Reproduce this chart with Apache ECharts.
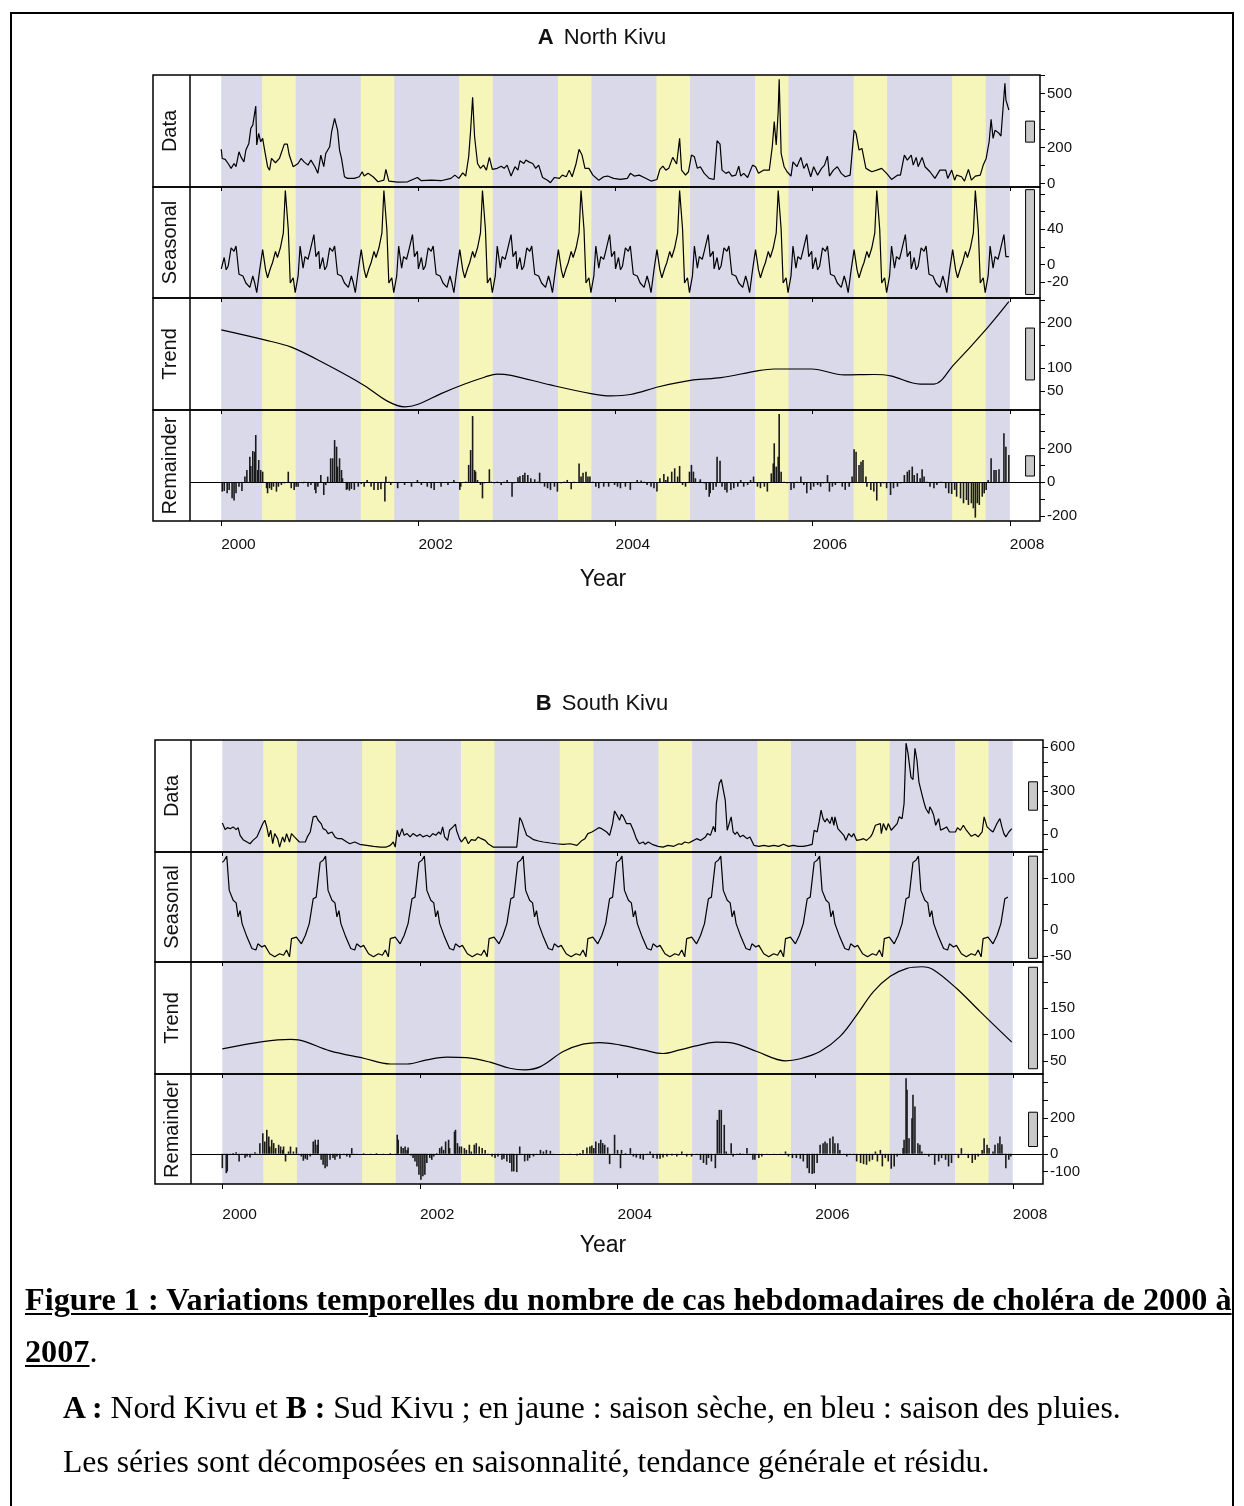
<!DOCTYPE html>
<html>
<head>
<meta charset="utf-8">
<script src="https://cdn.jsdelivr.net/npm/echarts@6.0.0/dist/echarts.min.js"></script>
<style>
  html, body { margin: 0; padding: 0; background: #fff; }
  #chart { position: absolute; left: 0; top: 0; width: 1244px; height: 1506px; }
  #frame { position: absolute; left: 10px; top: 12px; width: 1220px; height: 1520px; border: 2px solid #000; pointer-events: none; }
  .cap { position: absolute; font-family: "Liberation Serif", "Times New Roman", serif; font-size: 31px; line-height: 38px; color: #000; white-space: nowrap; transform-origin: 0 50%; }
  .u { text-decoration: underline; text-decoration-thickness: 2px; text-underline-offset: 3px; }
</style>
</head>
<body>
<div id="chart"></div>
<div id="frame"></div>
<div class="cap" style="left:25px;top:1281px;font-weight:bold;transform:scaleX(1.04);"><span class="u">Figure 1 : Variations temporelles du nombre de cas hebdomadaires de choléra de 2000 à</span></div>
<div class="cap" style="left:25px;top:1333px;transform:scaleX(1.04);"><b class="u">2007</b>.</div>
<div class="cap" style="left:63px;top:1389px;transform:scaleX(1.022);"><b>A :</b> Nord Kivu et <b>B :</b> Sud Kivu ; en jaune : saison sèche, en bleu : saison des pluies.</div>
<div class="cap" style="left:63px;top:1443px;transform:scaleX(1.022);">Les séries sont décomposées en saisonnalité, tendance générale et résidu.</div>
<script>
// ---------------- DATA ----------------
const yearTicks = [2000, 2002, 2004, 2006, 2008];
const seasonYears = [2000, 2001, 2002, 2003, 2004, 2005, 2006, 2007];
const rainySeason = [2000, 2008];          // blue background
const drySeasonFrac = [0.415, 0.755];      // yellow background, fraction of each year

// North Kivu (A)
const dataA = [[2000.00,190],[2000.01,139],[2000.04,134],[2000.07,111],[2000.10,84],[2000.13,111],[2000.15,93],[2000.18,176],[2000.20,148],[2000.23,120],[2000.25,186],[2000.28,223],[2000.30,307],[2000.32,325],[2000.35,431],[2000.36,214],[2000.38,279],[2000.40,232],[2000.42,251],[2000.44,186],[2000.47,93],[2000.49,74],[2000.51,139],[2000.55,115],[2000.59,139],[2000.64,219],[2000.67,219],[2000.69,158],[2000.73,93],[2000.78,111],[2000.81,139],[2000.84,120],[2000.86,130],[2000.88,102],[2000.91,130],[2000.95,93],[2000.98,56],[2001.01,158],[2001.04,93],[2001.06,167],[2001.10,204],[2001.12,288],[2001.15,362],[2001.18,297],[2001.20,186],[2001.22,139],[2001.25,37],[2001.28,28],[2001.35,28],[2001.40,37],[2001.43,65],[2001.45,41],[2001.49,56],[2001.54,37],[2001.59,9],[2001.65,18],[2001.67,78],[2001.70,13],[2001.79,7],[2001.89,9],[2001.99,33],[2002.03,15],[2002.13,18],[2002.23,15],[2002.33,28],[2002.37,46],[2002.41,28],[2002.45,59],[2002.48,41],[2002.51,148],[2002.53,297],[2002.55,480],[2002.57,260],[2002.60,111],[2002.63,84],[2002.66,102],[2002.69,74],[2002.72,145],[2002.75,78],[2002.80,84],[2002.84,96],[2002.87,84],[2002.90,102],[2002.94,41],[2002.98,93],[2003.01,74],[2003.03,126],[2003.07,111],[2003.09,130],[2003.12,120],[2003.16,111],[2003.19,84],[2003.22,102],[2003.26,33],[2003.31,18],[2003.34,4],[2003.38,33],[2003.43,28],[2003.46,46],[2003.50,37],[2003.53,74],[2003.56,37],[2003.60,111],[2003.63,190],[2003.66,158],[2003.69,84],[2003.73,84],[2003.77,46],[2003.83,18],[2003.88,37],[2003.92,41],[2003.98,28],[2004.05,22],[2004.12,28],[2004.15,56],[2004.19,41],[2004.24,46],[2004.29,33],[2004.36,13],[2004.42,22],[2004.45,78],[2004.48,96],[2004.51,74],[2004.54,84],[2004.58,145],[2004.60,152],[2004.62,108],[2004.65,251],[2004.67,74],[2004.71,46],[2004.74,65],[2004.77,158],[2004.80,148],[2004.83,84],[2004.86,93],[2004.90,56],[2004.95,28],[2005.00,22],[2005.03,238],[2005.06,219],[2005.08,74],[2005.12,56],[2005.15,65],[2005.18,41],[2005.22,46],[2005.25,96],[2005.27,41],[2005.30,56],[2005.34,33],[2005.39,102],[2005.42,93],[2005.45,56],[2005.50,74],[2005.56,74],[2005.59,204],[2005.61,344],[2005.63,214],[2005.65,400],[2005.66,580],[2005.68,167],[2005.71,93],[2005.74,65],[2005.78,41],[2005.80,120],[2005.84,93],[2005.88,145],[2005.91,84],[2005.94,111],[2005.98,37],[2006.01,93],[2006.05,46],[2006.09,84],[2006.12,102],[2006.15,152],[2006.17,41],[2006.21,74],[2006.25,93],[2006.29,56],[2006.33,37],[2006.38,46],[2006.42,297],[2006.44,279],[2006.47,186],[2006.50,195],[2006.54,84],[2006.57,74],[2006.60,65],[2006.65,74],[2006.70,84],[2006.75,56],[2006.80,22],[2006.86,46],[2006.89,46],[2006.93,158],[2006.96,130],[2007.00,158],[2007.02,102],[2007.05,145],[2007.07,93],[2007.11,145],[2007.14,93],[2007.19,65],[2007.24,28],[2007.29,74],[2007.35,74],[2007.37,28],[2007.41,74],[2007.44,18],[2007.46,46],[2007.51,37],[2007.54,13],[2007.58,78],[2007.61,18],[2007.65,41],[2007.70,46],[2007.73,102],[2007.76,139],[2007.79,232],[2007.81,357],[2007.83,251],[2007.85,297],[2007.89,279],[2007.91,264],[2007.95,558],[2007.96,465],[2007.99,409]];

const seasonalFracA = [0.00,0.03,0.05,0.07,0.10,0.13,0.15,0.18,0.22,0.25,0.29,0.32,0.34,0.36,0.39,0.42,0.45,0.47,0.50,0.52,0.55,0.57,0.60,0.63,0.65,0.68,0.70,0.73,0.75,0.78,0.80,0.83,0.85,0.88,0.90,0.94,0.96,0.99];
const seasonalA = [
  [-5,8,-6,-2,19,15,21,-11,-13,-21,-26,-13,-21,-32,-6,17,-6,-15,-4,2,15,8,19,36,84,40,-21,-15,-32,-13,21,-4,9,6,15,34,9,15],
  [-5,8,-6,-2,19,15,21,-11,-13,-21,-26,-13,-21,-32,-6,17,-6,-15,-4,2,15,8,19,36,84,40,-21,-15,-32,-13,21,-4,9,6,15,34,9,15],
  [-5,8,-6,-2,19,15,21,-11,-13,-21,-26,-13,-21,-32,-6,17,-6,-15,-4,2,15,8,19,36,84,40,-21,-15,-32,-13,21,-4,9,6,15,34,9,15],
  [-5,8,-6,-2,19,15,21,-11,-13,-21,-26,-13,-21,-32,-6,17,-6,-15,-4,2,15,8,19,36,84,40,-21,-15,-32,-13,21,-4,9,6,15,34,9,15],
  [-5,8,-6,-2,19,15,21,-11,-13,-21,-26,-13,-21,-32,-6,17,-6,-15,-4,2,15,8,19,36,84,40,-21,-15,-32,-13,21,-4,9,6,15,34,9,15],
  [-5,8,-6,-2,19,15,21,-11,-13,-21,-26,-13,-21,-32,-6,17,-6,-15,-4,2,15,8,19,36,84,40,-21,-15,-32,-13,21,-4,9,6,15,34,9,15],
  [-5,8,-6,-2,19,15,21,-11,-13,-21,-26,-13,-21,-32,-6,17,-6,-15,-4,2,15,8,19,36,84,40,-21,-15,-32,-13,21,-4,9,6,15,34,9,15],
  [-5,8,-6,-2,19,15,21,-11,-13,-21,-26,-13,-21,-32,-6,17,-6,-15,-4,2,15,8,19,36,84,40,-21,-15,-32,-13,21,-4,9,6,15,34,9,9]
];

const trendA = [[2000.00,184],[2000.44,162],[2000.71,146],[2001.05,110],[2001.45,62],[2001.69,27],[2001.86,15],[2001.99,20],[2002.23,44],[2002.47,65],[2002.67,80],[2002.80,87],[2002.94,84],[2003.34,63],[2003.75,44],[2003.95,39],[2004.15,42],[2004.44,59],[2004.79,74],[2005.07,79],[2005.44,94],[2005.61,98],[2005.99,98],[2006.32,85],[2006.62,86],[2006.79,83],[2007.09,65],[2007.23,65],[2007.43,107],[2007.77,188],[2007.99,246]];

const remainderA = [[2000.01,-55],[2000.03,-51],[2000.06,-65],[2000.08,-45],[2000.11,-95],[2000.13,-108],[2000.15,-65],[2000.18,-26],[2000.21,-51],[2000.24,34],[2000.26,73],[2000.29,152],[2000.30,97],[2000.32,185],[2000.34,181],[2000.35,280],[2000.37,73],[2000.38,132],[2000.40,73],[2000.42,63],[2000.46,-35],[2000.47,-65],[2000.49,-35],[2000.51,-45],[2000.53,-26],[2000.56,-55],[2000.58,-26],[2000.61,-16],[2000.64,-6],[2000.68,63],[2000.71,-35],[2000.74,-45],[2000.76,-26],[2000.78,-26],[2000.83,-6],[2000.84,4],[2000.88,-26],[2000.91,-16],[2000.95,-45],[2000.96,-65],[2000.98,-26],[2001.01,43],[2001.04,-75],[2001.06,-16],[2001.08,34],[2001.11,142],[2001.13,142],[2001.15,250],[2001.17,211],[2001.18,93],[2001.20,142],[2001.22,73],[2001.23,24],[2001.27,-45],[2001.28,-41],[2001.30,-49],[2001.32,-39],[2001.35,-45],[2001.39,-26],[2001.42,-10],[2001.45,-26],[2001.48,14],[2001.52,-26],[2001.55,-45],[2001.59,-45],[2001.62,-41],[2001.66,-114],[2001.67,34],[2001.70,4],[2001.72,-16],[2001.79,-35],[2001.86,-16],[2001.93,-26],[2001.99,14],[2002.03,-16],[2002.09,-26],[2002.13,-35],[2002.16,-45],[2002.23,-26],[2002.30,-16],[2002.36,14],[2002.42,-45],[2002.43,-26],[2002.48,4],[2002.51,103],[2002.53,191],[2002.55,392],[2002.57,73],[2002.58,63],[2002.60,14],[2002.63,-16],[2002.65,-95],[2002.67,-6],[2002.72,77],[2002.74,4],[2002.77,-6],[2002.80,4],[2002.84,-16],[2002.87,4],[2002.90,14],[2002.95,-85],[2002.97,-6],[2003.01,30],[2003.03,37],[2003.06,43],[2003.08,57],[2003.11,43],[2003.14,24],[2003.18,18],[2003.21,4],[2003.23,57],[2003.24,-6],[2003.28,-26],[2003.31,-35],[2003.34,-45],[2003.38,-26],[2003.41,-55],[2003.45,-6],[2003.48,4],[2003.51,14],[2003.55,-41],[2003.58,4],[2003.63,112],[2003.65,34],[2003.67,57],[2003.70,63],[2003.72,34],[2003.74,34],[2003.77,4],[2003.80,-26],[2003.83,-35],[2003.88,-26],[2003.93,-26],[2003.99,-16],[2004.02,-26],[2004.05,-35],[2004.10,-26],[2004.15,-45],[2004.19,-2],[2004.22,14],[2004.26,10],[2004.29,4],[2004.32,-16],[2004.36,-26],[2004.39,-35],[2004.42,-55],[2004.45,24],[2004.49,49],[2004.51,14],[2004.53,34],[2004.57,63],[2004.60,83],[2004.63,34],[2004.65,97],[2004.68,-16],[2004.71,-26],[2004.75,63],[2004.77,103],[2004.79,63],[2004.81,24],[2004.85,4],[2004.86,18],[2004.90,-6],[2004.92,-45],[2004.95,-85],[2004.96,-65],[2004.99,-45],[2005.02,-26],[2005.03,152],[2005.06,128],[2005.08,-26],[2005.11,-45],[2005.13,-61],[2005.17,-45],[2005.20,-35],[2005.24,-26],[2005.27,14],[2005.30,-26],[2005.34,-16],[2005.37,14],[2005.40,34],[2005.44,-26],[2005.47,-35],[2005.51,-26],[2005.54,-55],[2005.58,53],[2005.60,112],[2005.61,231],[2005.63,93],[2005.65,152],[2005.66,404],[2005.68,63],[2005.71,4],[2005.74,-6],[2005.78,-45],[2005.81,-35],[2005.84,4],[2005.88,34],[2005.91,-16],[2005.94,-65],[2005.98,-45],[2006.01,-26],[2006.05,-16],[2006.08,-26],[2006.11,-6],[2006.15,43],[2006.17,-55],[2006.20,-26],[2006.23,-16],[2006.27,-2],[2006.30,-26],[2006.33,-45],[2006.37,-26],[2006.40,34],[2006.42,195],[2006.44,181],[2006.47,103],[2006.49,122],[2006.51,132],[2006.54,34],[2006.55,-26],[2006.59,-45],[2006.62,-55],[2006.65,-108],[2006.69,-26],[2006.72,-6],[2006.75,-35],[2006.79,-75],[2006.82,-35],[2006.86,-26],[2006.89,-6],[2006.93,43],[2006.96,63],[2006.98,73],[2007.01,93],[2007.03,43],[2007.06,53],[2007.09,24],[2007.11,77],[2007.13,34],[2007.16,4],[2007.19,-26],[2007.23,-35],[2007.26,-16],[2007.30,4],[2007.35,-35],[2007.38,-65],[2007.41,-69],[2007.44,-45],[2007.46,-85],[2007.50,-95],[2007.53,-124],[2007.56,-105],[2007.58,-134],[2007.61,-124],[2007.63,-154],[2007.65,-209],[2007.67,-124],[2007.69,-134],[2007.72,-85],[2007.74,-65],[2007.76,-45],[2007.78,14],[2007.81,142],[2007.84,73],[2007.86,73],[2007.89,77],[2007.92,4],[2007.94,290],[2007.96,211],[2007.99,162]];

// South Kivu (B)
const dataB = [[2000.00,78],[2000.03,32],[2000.05,46],[2000.08,39],[2000.11,51],[2000.14,32],[2000.16,46],[2000.18,-7],[2000.21,-37],[2000.25,-53],[2000.28,-65],[2000.31,-42],[2000.33,-53],[2000.35,-18],[2000.38,28],[2000.41,74],[2000.43,97],[2000.45,51],[2000.47,-18],[2000.49,28],[2000.51,-65],[2000.53,5],[2000.56,-30],[2000.58,-88],[2000.61,-18],[2000.63,-53],[2000.65,5],[2000.68,-53],[2000.70,5],[2000.73,-18],[2000.75,-7],[2000.78,-53],[2000.80,-65],[2000.84,-53],[2000.86,-18],[2000.89,16],[2000.92,120],[2000.95,125],[2000.97,97],[2001.00,74],[2001.02,39],[2001.05,28],[2001.07,5],[2001.11,16],[2001.14,-18],[2001.17,-30],[2001.21,-30],[2001.26,-53],[2001.29,-65],[2001.34,-53],[2001.39,-69],[2001.46,-76],[2001.53,-83],[2001.60,-88],[2001.66,-88],[2001.70,-76],[2001.73,-53],[2001.75,-88],[2001.77,28],[2001.79,-18],[2001.82,39],[2001.84,-7],[2001.87,5],[2001.90,-18],[2001.93,5],[2001.97,-14],[2002.00,0],[2002.03,-18],[2002.07,-7],[2002.10,-18],[2002.13,5],[2002.16,-7],[2002.19,16],[2002.21,0],[2002.23,51],[2002.25,-18],[2002.28,-42],[2002.30,28],[2002.34,55],[2002.36,69],[2002.37,28],[2002.40,-30],[2002.42,-53],[2002.46,-18],[2002.49,-65],[2002.52,-37],[2002.56,-42],[2002.59,-18],[2002.62,-30],[2002.66,-42],[2002.69,-65],[2002.74,-88],[2002.84,-88],[2002.98,-88],[2003.01,115],[2003.03,92],[2003.05,51],[2003.08,-7],[2003.11,-18],[2003.15,-37],[2003.20,-46],[2003.25,-53],[2003.32,-60],[2003.38,-65],[2003.45,-69],[2003.52,-65],[2003.59,-76],[2003.64,-42],[2003.67,-30],[2003.70,5],[2003.74,16],[2003.77,28],[2003.81,46],[2003.84,39],[2003.89,16],[2003.92,-7],[2003.95,74],[2003.97,161],[2004.00,125],[2004.02,97],[2004.04,138],[2004.06,120],[2004.09,74],[2004.11,62],[2004.13,74],[2004.16,28],[2004.19,-30],[2004.22,-65],[2004.26,-53],[2004.28,-69],[2004.31,-53],[2004.35,-69],[2004.38,-76],[2004.41,-83],[2004.46,-88],[2004.51,-76],[2004.57,-83],[2004.62,-65],[2004.65,-69],[2004.68,-53],[2004.72,-60],[2004.77,-42],[2004.80,-30],[2004.84,-42],[2004.89,-18],[2004.91,5],[2004.94,-7],[2004.97,55],[2004.99,16],[2005.00,212],[2005.03,351],[2005.05,378],[2005.07,385],[2005.09,235],[2005.11,28],[2005.12,51],[2005.15,120],[2005.17,16],[2005.19,0],[2005.21,16],[2005.24,-18],[2005.27,-7],[2005.31,-30],[2005.34,-18],[2005.38,-76],[2005.43,-83],[2005.48,-76],[2005.53,-83],[2005.58,-76],[2005.63,-83],[2005.68,-69],[2005.73,-83],[2005.78,-76],[2005.83,-83],[2005.88,-83],[2005.93,-76],[2005.97,-69],[2005.99,28],[2006.02,16],[2006.04,85],[2006.06,166],[2006.08,108],[2006.10,85],[2006.12,108],[2006.15,74],[2006.17,120],[2006.19,62],[2006.20,120],[2006.23,39],[2006.25,28],[2006.29,-7],[2006.31,-42],[2006.34,5],[2006.37,-18],[2006.39,5],[2006.42,-42],[2006.46,-37],[2006.49,-30],[2006.52,-42],[2006.56,-18],[2006.58,5],[2006.61,62],[2006.63,51],[2006.66,74],[2006.67,5],[2006.69,74],[2006.72,28],[2006.74,74],[2006.77,28],[2006.79,39],[2006.83,74],[2006.85,120],[2006.88,108],[2006.90,212],[2006.92,628],[2006.94,558],[2006.97,392],[2006.99,378],[2007.01,593],[2007.03,512],[2007.05,362],[2007.07,305],[2007.10,224],[2007.12,178],[2007.15,143],[2007.16,189],[2007.18,166],[2007.20,131],[2007.22,62],[2007.25,108],[2007.27,28],[2007.30,39],[2007.33,51],[2007.36,16],[2007.38,28],[2007.42,16],[2007.44,46],[2007.47,28],[2007.50,62],[2007.53,28],[2007.55,16],[2007.58,-14],[2007.62,0],[2007.65,-18],[2007.69,16],[2007.71,120],[2007.74,51],[2007.77,32],[2007.80,16],[2007.84,74],[2007.87,108],[2007.89,51],[2007.91,5],[2007.93,-18],[2007.96,16],[2007.99,39]];

const seasonalFracB = [0.00,0.02,0.045,0.07,0.11,0.14,0.16,0.18,0.20,0.25,0.30,0.34,0.36,0.40,0.43,0.48,0.53,0.58,0.62,0.65,0.68,0.70,0.72,0.75,0.80,0.84,0.88,0.92,0.95,0.99];
const seasonalB = [
  [131,135,143,77,58,53,26,38,13,-13,-35,-38,-26,-32,-29,-45,-51,-45,-48,-38,-51,-16,-19,-13,-26,-10,13,61,64,131],
  [131,135,143,77,58,53,26,38,13,-13,-35,-38,-26,-32,-29,-45,-51,-45,-48,-38,-51,-16,-19,-13,-26,-10,13,61,64,131],
  [131,135,143,77,58,53,26,38,13,-13,-35,-38,-26,-32,-29,-45,-51,-45,-48,-38,-51,-16,-19,-13,-26,-10,13,61,64,131],
  [131,135,143,77,58,53,26,38,13,-13,-35,-38,-26,-32,-29,-45,-51,-45,-48,-38,-51,-16,-19,-13,-26,-10,13,61,64,131],
  [131,135,143,77,58,53,26,38,13,-13,-35,-38,-26,-32,-29,-45,-51,-45,-48,-38,-51,-16,-19,-13,-26,-10,13,61,64,131],
  [131,135,143,77,58,53,26,38,13,-13,-35,-38,-26,-32,-29,-45,-51,-45,-48,-38,-51,-16,-19,-13,-26,-10,13,61,64,131],
  [131,135,143,77,58,53,26,38,13,-13,-35,-38,-26,-32,-29,-45,-51,-45,-48,-38,-51,-16,-19,-13,-26,-10,13,61,64,131],
  [131,135,143,77,58,53,26,38,13,-13,-35,-38,-26,-32,-29,-45,-51,-45,-48,-38,-51,-16,-19,-13,-26,-10,13,61,64]
];

const trendB = [[2000.00,72.8],[2000.41,86.7],[2000.69,91],[2000.77,90],[2001.09,69],[2001.43,55],[2001.70,44],[2001.87,44],[2002.07,52],[2002.27,57],[2002.47,56],[2002.71,47.5],[2002.91,36],[2003.06,33],[2003.22,39],[2003.45,67.7],[2003.65,81.7],[2003.82,84.8],[2004.03,80],[2004.26,71],[2004.46,64],[2004.63,71],[2004.83,80],[2005.00,85.5],[2005.17,83.6],[2005.41,67.7],[2005.70,50],[2005.85,54],[2006.05,67.7],[2006.25,96],[2006.42,137],[2006.59,181.6],[2006.76,211],[2006.93,226],[2007.08,229],[2007.20,223],[2007.43,188],[2007.67,143.6],[2007.99,85.5]];

const remainderB = [[2000.00,-81],[2000.02,-6],[2000.04,-109],[2000.05,-99],[2000.08,-2],[2000.11,4],[2000.14,9],[2000.17,-43],[2000.20,-6],[2000.23,-24],[2000.25,-15],[2000.28,-21],[2000.30,-2],[2000.33,9],[2000.35,-6],[2000.38,60],[2000.41,116],[2000.43,69],[2000.45,135],[2000.47,97],[2000.48,41],[2000.50,79],[2000.52,60],[2000.54,32],[2000.57,51],[2000.59,41],[2000.61,22],[2000.62,41],[2000.64,-43],[2000.67,13],[2000.69,41],[2000.72,13],[2000.75,36],[2000.77,-6],[2000.80,-15],[2000.82,-39],[2000.84,-28],[2000.86,-34],[2000.89,-15],[2000.92,69],[2000.94,79],[2000.96,51],[2000.97,79],[2001.00,-34],[2001.02,-62],[2001.04,-81],[2001.06,-71],[2001.09,-34],[2001.12,-24],[2001.14,-34],[2001.16,-15],[2001.19,-28],[2001.23,-6],[2001.26,-15],[2001.29,-21],[2001.31,32],[2001.33,-2],[2001.36,-6],[2001.43,4],[2001.50,-2],[2001.56,4],[2001.63,-2],[2001.70,4],[2001.75,-6],[2001.77,107],[2001.78,79],[2001.81,41],[2001.83,32],[2001.85,41],[2001.87,22],[2001.88,36],[2001.91,-9],[2001.93,-24],[2001.95,-43],[2001.97,-71],[2001.99,-118],[2002.01,-146],[2002.03,-127],[2002.05,-118],[2002.07,-52],[2002.10,-24],[2002.12,-34],[2002.14,-15],[2002.17,4],[2002.20,32],[2002.22,41],[2002.24,22],[2002.26,69],[2002.29,79],[2002.30,32],[2002.32,-6],[2002.35,125],[2002.36,135],[2002.38,60],[2002.40,41],[2002.42,41],[2002.45,32],[2002.47,22],[2002.50,51],[2002.52,13],[2002.55,51],[2002.57,60],[2002.60,41],[2002.63,32],[2002.66,22],[2002.69,-6],[2002.73,-15],[2002.76,-24],[2002.79,-15],[2002.83,-34],[2002.85,-28],[2002.88,-43],[2002.91,-52],[2002.93,-99],[2002.95,-99],[2002.98,-103],[2003.01,41],[2003.03,-6],[2003.06,-43],[2003.09,-39],[2003.11,-24],[2003.15,-15],[2003.18,-6],[2003.22,22],[2003.25,13],[2003.28,22],[2003.32,17],[2003.35,-2],[2003.38,0],[2003.45,-6],[2003.52,-2],[2003.59,-9],[2003.62,4],[2003.65,22],[2003.69,36],[2003.72,41],[2003.74,47],[2003.76,32],[2003.78,69],[2003.81,60],[2003.83,79],[2003.85,60],[2003.87,51],[2003.90,36],[2003.92,-58],[2003.95,-6],[2003.97,107],[2004.00,22],[2004.03,-81],[2004.04,22],[2004.08,4],[2004.13,32],[2004.16,-15],[2004.19,-21],[2004.23,-28],[2004.26,-34],[2004.30,-6],[2004.33,13],[2004.36,-24],[2004.40,-28],[2004.43,-28],[2004.46,-21],[2004.50,-15],[2004.55,-9],[2004.60,-15],[2004.65,13],[2004.70,-15],[2004.75,-15],[2004.80,-6],[2004.84,-34],[2004.87,-52],[2004.90,-62],[2004.92,-24],[2004.95,-43],[2004.99,-81],[2005.01,191],[2005.03,247],[2005.05,247],[2005.08,163],[2005.10,13],[2005.12,-6],[2005.15,60],[2005.17,-15],[2005.21,-6],[2005.24,4],[2005.27,-2],[2005.31,32],[2005.34,-6],[2005.37,-34],[2005.39,-34],[2005.43,-24],[2005.46,-15],[2005.51,-6],[2005.58,-2],[2005.65,-2],[2005.70,13],[2005.73,-15],[2005.77,-24],[2005.81,-24],[2005.85,-28],[2005.88,-43],[2005.92,-81],[2005.94,-109],[2005.97,-114],[2005.99,-109],[2006.02,-52],[2006.05,51],[2006.08,60],[2006.10,69],[2006.12,60],[2006.15,88],[2006.18,97],[2006.20,60],[2006.23,60],[2006.25,22],[2006.29,-6],[2006.32,-15],[2006.35,-2],[2006.39,-6],[2006.42,-43],[2006.46,-52],[2006.49,-58],[2006.52,-62],[2006.55,-43],[2006.58,-34],[2006.61,13],[2006.63,-43],[2006.66,22],[2006.68,-71],[2006.71,-24],[2006.74,-43],[2006.77,-84],[2006.80,-71],[2006.83,-15],[2006.86,-2],[2006.89,32],[2006.90,79],[2006.92,425],[2006.93,360],[2006.95,88],[2006.98,200],[2006.99,332],[2007.01,266],[2007.04,60],[2007.06,51],[2007.08,13],[2007.11,-6],[2007.15,-15],[2007.18,-2],[2007.21,-62],[2007.25,-43],[2007.28,-24],[2007.32,-34],[2007.35,-71],[2007.38,-52],[2007.42,-6],[2007.45,-24],[2007.48,32],[2007.52,-2],[2007.55,-24],[2007.59,-52],[2007.62,-34],[2007.65,-15],[2007.69,22],[2007.71,88],[2007.74,51],[2007.76,32],[2007.80,13],[2007.82,51],[2007.85,60],[2007.87,97],[2007.89,54],[2007.91,-6],[2007.93,-81],[2007.96,-34],[2007.98,-15]];

// Axis extents, ticks and labels per component (Data, Seasonal, Trend, Remainder)
const yRangeA  = [[-20,604],[-38,88],[8,254],[-229,428]];
const yTicksA  = [[0,100,200,300,400,500,600],[-20,0,20,40,60,80],[50,100,150,200,250],[-200,-100,0,100,200,300,400]];
const yLabelsA = [[0,200,500],[-20,0,40],[50,100,200],[-200,0,200]];
const scaleBarA = [[230,347],[-34,85],[74,188],[37,157]];

const yRangeB  = [[-122,650],[-61,151],[25,238],[-170,449]];
const yTicksB  = [[-100,0,100,200,300,400,500,600],[-50,0,50,100],[50,100,150,200],[-100,0,100,200,300,400]];
const yLabelsB = [[0,300,600],[-50,0,100],[50,100,150],[-100,0,200]];
const scaleBarB = [[166,362],[-54,143],[35,228],[41,234]];

const componentNames = ['Data', 'Seasonal', 'Trend', 'Remainder'];

// ---------------- BUILD ----------------
function seasonalSeries(fracs, rows) {
  const out = [];
  rows.forEach((vals, i) => vals.forEach((v, j) => out.push([seasonYears[i] + fracs[j], v])));
  return out;
}

const FONT = '"Liberation Sans", Arial, sans-serif';
const BLUE = '#d9d9e9', YELLOW = '#f6f6bb', GREY = '#c9c9c9';
const X_MIN = 1999.683, X_MAX = 2008.306;
const BAR_X = [2008.16, 2008.25];

const panels = [
  { letter: 'A', name: 'North Kivu', left: 190, right: 1040, strip: 153, rows: [75, 187, 298, 410, 521], titleY: 38, yearY: 580, labelMargin: 16,
    series: [dataA, seasonalSeries(seasonalFracA, seasonalA), trendA, remainderA], yRange: yRangeA, yTicks: yTicksA, yLabels: yLabelsA, bars: scaleBarA },
  { letter: 'B', name: 'South Kivu', left: 191, right: 1043, strip: 155, rows: [740, 852, 962, 1074, 1184], titleY: 704, yearY: 1246, labelMargin: 23,
    series: [dataB, seasonalSeries(seasonalFracB, seasonalB), trendB, remainderB], yRange: yRangeB, yTicks: yTicksB, yLabels: yLabelsB, bars: scaleBarB }
];

const grid = [], xAxis = [], yAxis = [], series = [], graphic = [];

panels.forEach((p, pi) => {
  for (let i = 0; i < 4; i++) {
    const g = pi * 4 + i;
    const top = p.rows[i], h = p.rows[i + 1] - p.rows[i];
    grid.push({ left: p.left, top: top, width: p.right - p.left, height: h, show: false });
    const isBottom = i === 3;
    xAxis.push({
      type: 'value', gridIndex: g, min: X_MIN, max: X_MAX, z: 10, position: 'bottom',
      axisLine: { show: false, onZero: false }, splitLine: { show: false },
      axisTick: { show: true, customValues: yearTicks, length: isBottom ? 5 : 4, lineStyle: { color: '#000', width: 1 } },
      axisLabel: isBottom ? { show: true, customValues: yearTicks, align: 'left', margin: p.labelMargin, fontSize: 15.5, fontFamily: FONT, color: '#111', formatter: v => String(Math.round(v)) } : { show: false }
    });
    yAxis.push({
      type: 'value', gridIndex: g, position: 'right', min: p.yRange[i][0], max: p.yRange[i][1], z: 10,
      axisLine: { show: false, onZero: false }, splitLine: { show: false },
      axisTick: { show: true, customValues: p.yTicks[i], length: 5, lineStyle: { color: '#000', width: 1 } },
      axisLabel: { show: true, customValues: p.yLabels[i], margin: 7, fontSize: 15, fontFamily: FONT, color: '#111' }
    });
    // background seasons + scale bar
    const areas = [[{ xAxis: rainySeason[0], itemStyle: { color: BLUE } }, { xAxis: rainySeason[1] }]];
    seasonYears.forEach(y => areas.push([{ xAxis: y + drySeasonFrac[0], itemStyle: { color: YELLOW } }, { xAxis: y + drySeasonFrac[1] }]));
    areas.push([{ xAxis: BAR_X[0], yAxis: p.bars[i][0], itemStyle: { color: GREY, borderColor: '#000', borderWidth: 1 } }, { xAxis: BAR_X[1], yAxis: p.bars[i][1] }]);
    series.push({
      type: 'line', xAxisIndex: g, yAxisIndex: g, data: [], silent: true, z: 1,
      markArea: { silent: true, label: { show: false }, data: areas }
    });
    if (i < 3) {
      series.push({
        type: 'line', name: p.letter + ' ' + componentNames[i], xAxisIndex: g, yAxisIndex: g, data: p.series[i],
        symbol: 'none', showSymbol: false, silent: true, z: 3, smooth: i === 2 ? 0.35 : false,
        lineStyle: { color: '#000', width: 1.2 }
      });
    } else {
      series.push({
        type: 'bar', name: p.letter + ' Remainder', xAxisIndex: g, yAxisIndex: g, data: p.series[i],
        barWidth: 1.6, silent: true, z: 3, itemStyle: { color: '#1a1a1a' },
        markLine: { silent: true, symbol: 'none', label: { show: false }, lineStyle: { color: '#000', type: 'solid', width: 1 }, data: [{ yAxis: 0 }] }
      });
    }
    // frames and strip labels
    graphic.push({ type: 'rect', z: 100, silent: true, shape: { x: p.strip, y: top, width: p.right - p.strip, height: h }, style: { fill: 'none', stroke: '#000', lineWidth: 1.5 } });
    graphic.push({ type: 'text', z: 100, silent: true, x: (p.strip + p.left) / 2 - 1, y: top + h / 2, rotation: Math.PI / 2,
      style: { text: componentNames[i], fontSize: 20, fontFamily: FONT, fill: '#111', align: 'center', verticalAlign: 'middle', textAlign: 'center', textVerticalAlign: 'middle' } });
  }
  graphic.push({ type: 'line', z: 100, silent: true, shape: { x1: p.left, y1: p.rows[0], x2: p.left, y2: p.rows[4] }, style: { stroke: '#000', lineWidth: 1.5 } });
  graphic.push({ type: 'text', z: 100, silent: true, x: 602, y: p.titleY,
    style: { text: '{b|' + p.letter + '} ' + p.name, fontSize: 22, fontFamily: FONT, fill: '#111', align: 'center', verticalAlign: 'middle', textAlign: 'center', textVerticalAlign: 'middle',
      rich: { b: { fontWeight: 'bold', fontSize: 22, fontFamily: FONT, fill: '#111', padding: [0, 4, 0, 0] } } } });
  graphic.push({ type: 'text', z: 100, silent: true, x: 603, y: p.yearY,
    style: { text: 'Year', fontSize: 23, fontFamily: FONT, fill: '#111', align: 'center', verticalAlign: 'middle', textAlign: 'center', textVerticalAlign: 'middle' } });
});

const chart = echarts.init(document.getElementById('chart'), null, { renderer: 'canvas' });
chart.setOption({ animation: false, backgroundColor: '#fff', grid, xAxis, yAxis, series, graphic });
</script>
</body>
</html>
